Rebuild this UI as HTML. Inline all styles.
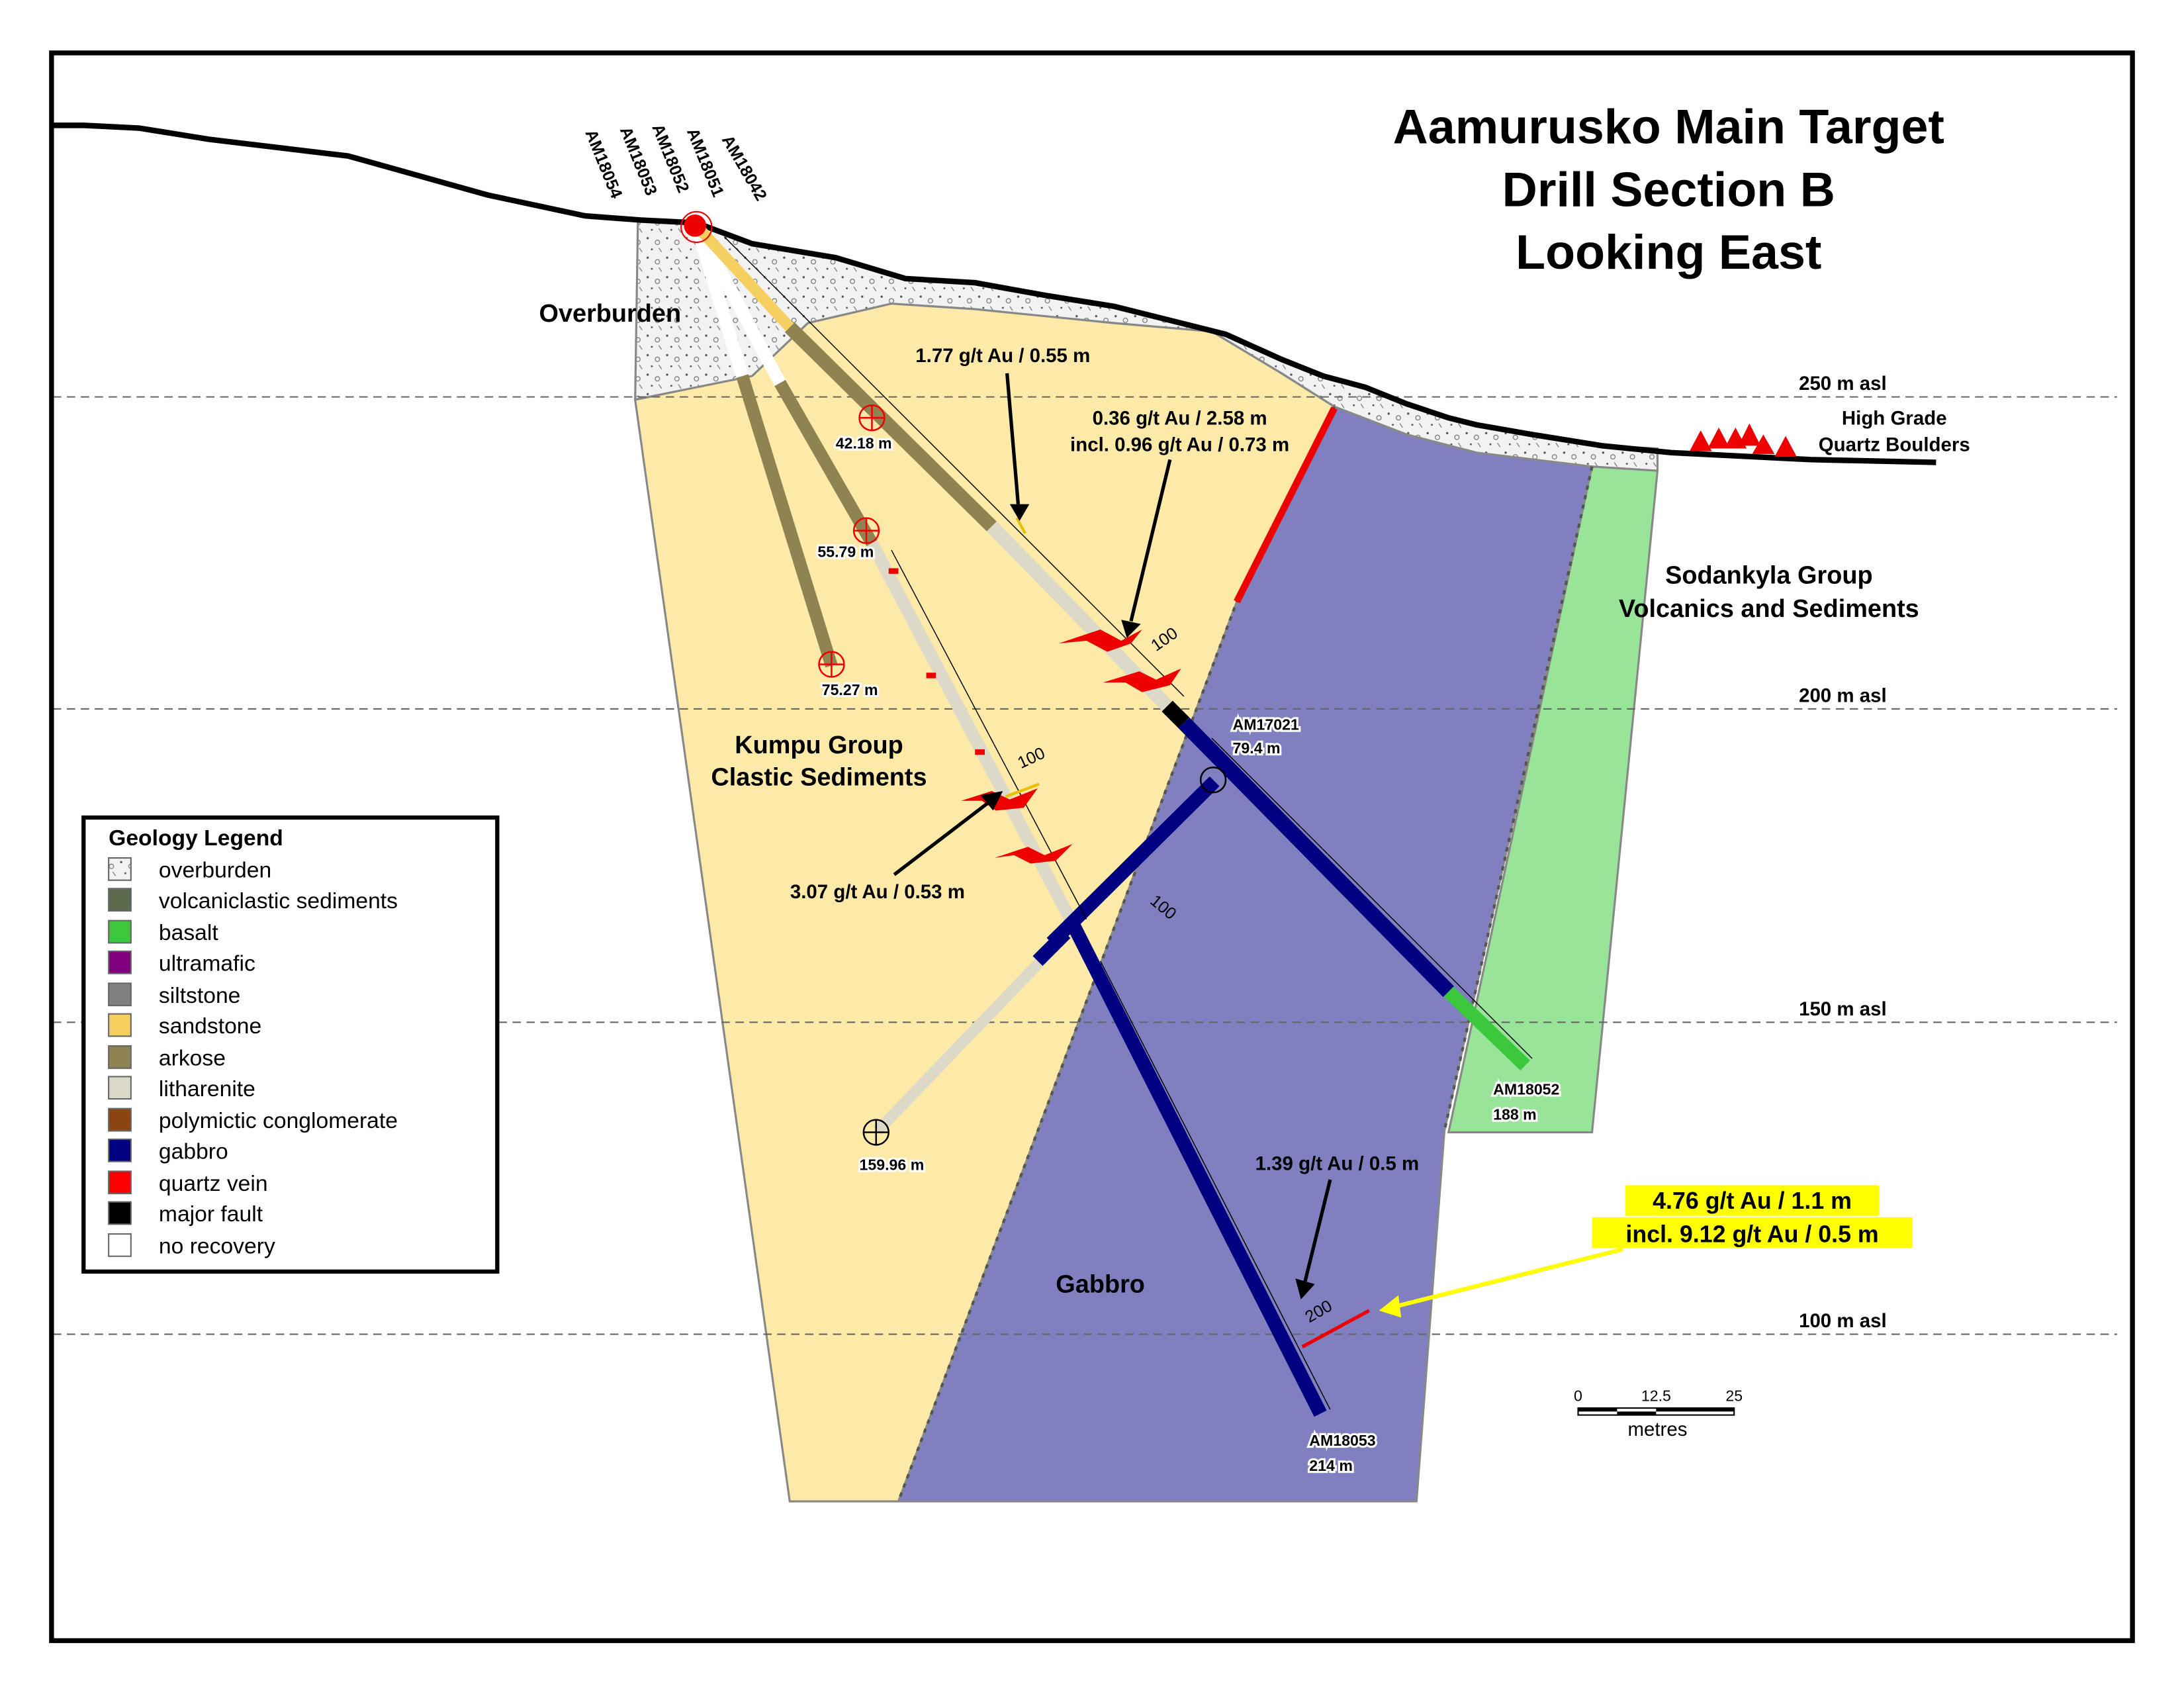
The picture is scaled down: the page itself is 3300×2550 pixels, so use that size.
<!DOCTYPE html>
<html><head><meta charset="utf-8"><style>html,body{margin:0;padding:0;background:#fff}svg{display:block}text{font-family:"Liberation Sans",Arial,sans-serif}</style></head>
<body>
<svg width="3300" height="2550" viewBox="0 0 1568 1212" preserveAspectRatio="none" xmlns="http://www.w3.org/2000/svg">
<defs>
<pattern id="ob" width="14" height="14" patternUnits="userSpaceOnUse">
<rect width="14" height="14" fill="#f2f2f2"/>
<circle cx="3" cy="3" r="0.8" fill="#555"/><circle cx="10" cy="6" r="1.6" fill="none" stroke="#777" stroke-width="0.6"/><circle cx="6" cy="11" r="0.7" fill="#555"/><line x1="11" y1="10" x2="13" y2="13" stroke="#777" stroke-width="0.6"/>
</pattern>
</defs>
<rect x="0" y="0" width="1568" height="1212" fill="#fff"/>
<polygon fill="url(#ob)" stroke="#888" stroke-width="1.5" points="458,157 500,160 540,175 600,185 650,200 700,203 750,212 800,220 880,240 920,258 950,270 980,278 1010,290 1040,300 1060,305 1100,312 1150,320 1190,322 1190,338 1143,335 1060,325 1010,312 958,292 920,268 870,238 800,232 700,222 640,218 580,232 540,270 456,287"/>
<polygon fill="#fdeaa8" stroke="#888" stroke-width="1.5" points="456,287 540,270 580,232 640,218 700,222 800,232 870,238 920,268 958,292 888,432 645,1078 567,1078"/>
<polygon fill="#8080c0" stroke="#888" stroke-width="1.5" points="958,292 1010,312 1060,325 1143,335 1037,812 1017,1078 645,1078 888,432"/>
<polygon fill="#98e498" stroke="#888" stroke-width="1.5" points="1143,335 1190,338 1143,813 1040,813"/>
<path d="M958,292 L888,432 L645,1078" stroke="#555" stroke-width="2" stroke-dasharray="3,4" fill="none"/>
<path d="M1143,335 L1037,812" stroke="#555" stroke-width="2" stroke-dasharray="3,4" fill="none"/>
<line x1="958" y1="293" x2="888" y2="432" stroke="#e00" stroke-width="5"/>
<g stroke="#666" stroke-width="1" stroke-dasharray="6,4">
<line x1="38" y1="285" x2="1520" y2="285"/><line x1="38" y1="509" x2="1520" y2="509"/><line x1="38" y1="734" x2="1520" y2="734"/><line x1="38" y1="958" x2="1520" y2="958"/>
</g>
<g font-weight="bold" font-size="14" text-anchor="middle">
<text x="1323" y="280">250 m asl</text><text x="1323" y="504">200 m asl</text><text x="1323" y="729">150 m asl</text><text x="1323" y="953">100 m asl</text>
</g>
<polyline fill="none" stroke="#000" stroke-width="4" points="38,90 60,90 100,92 150,100 250,112 350,140 420,155 460,158 500,160 540,175 600,185 650,200 700,203 750,212 800,220 880,240 920,258 950,270 980,278 1010,290 1040,300 1060,305 1100,312 1150,320 1200,325 1300,330 1390,332"/>
<g stroke-linecap="butt">
<line x1="500" y1="162" x2="533" y2="270" stroke="#fff" stroke-width="9"/>
<line x1="533" y1="270" x2="597" y2="478" stroke="#8f8352" stroke-width="9"/>
<line x1="500" y1="162" x2="560" y2="275" stroke="#fff" stroke-width="9"/>
<line x1="560" y1="275" x2="626" y2="390" stroke="#8f8352" stroke-width="9"/>
<line x1="626" y1="390" x2="770" y2="663" stroke="#dcd9c8" stroke-width="9"/>
<line x1="500" y1="162" x2="567" y2="235" stroke="#f5d060" stroke-width="8"/>
<line x1="567" y1="235" x2="712" y2="378" stroke="#8f8352" stroke-width="10"/>
<line x1="712" y1="378" x2="838" y2="507" stroke="#dcd9c8" stroke-width="10"/>
<line x1="838" y1="507" x2="850" y2="519" stroke="#000" stroke-width="11"/>
<line x1="850" y1="519" x2="1040" y2="712" stroke="#000080" stroke-width="11"/>
<line x1="1040" y1="712" x2="1095" y2="765" stroke="#3cc83c" stroke-width="10"/>
<line x1="770" y1="663" x2="948" y2="1015" stroke="#000080" stroke-width="10"/>
<line x1="755" y1="677" x2="872" y2="561" stroke="#000080" stroke-width="10"/>
<line x1="752" y1="685" x2="630" y2="812" stroke="#dcd9c8" stroke-width="8"/>
<line x1="745" y1="690" x2="765" y2="670" stroke="#000080" stroke-width="10"/>
</g>
<g stroke="#000" stroke-width="0.7" fill="none">
<line x1="520" y1="170" x2="850" y2="500"/><line x1="870" y1="530" x2="1100" y2="760"/>
<line x1="640" y1="395" x2="780" y2="660"/><line x1="790" y1="690" x2="955" y2="1012"/>
</g>
<g fill="#e00">
<polygon points="760,462 790,452 805,460 820,452 812,462 795,468 780,460"/>
<polygon points="792,490 818,482 830,488 848,480 840,492 820,497 808,490"/>
<polygon points="690,575 712,568 725,574 745,566 735,580 715,582 705,575"/>
<polygon points="714,616 738,608 750,614 770,606 758,618 740,620 728,614"/>
<rect x="665" y="483" width="7" height="4"/><rect x="700" y="538" width="7" height="4"/><rect x="638" y="408" width="7" height="4"/>
</g>
<line x1="935" y1="967" x2="983" y2="941" stroke="#e00" stroke-width="2.5"/>
<line x1="736" y1="383" x2="730" y2="372" stroke="#e8c000" stroke-width="2"/>
<line x1="722" y1="572" x2="746" y2="563" stroke="#e8c000" stroke-width="2"/>
<circle cx="499" cy="162" r="8" fill="#e00"/><circle cx="500" cy="163" r="11" fill="none" stroke="#e00"/>
<g fill="none" stroke="#e00" stroke-width="1.2">
<circle cx="626" cy="300" r="9"/><line x1="617" y1="300" x2="635" y2="300"/><line x1="626" y1="291" x2="626" y2="309"/>
<circle cx="622" cy="381" r="9"/><line x1="613" y1="381" x2="631" y2="381"/><line x1="622" y1="372" x2="622" y2="390"/>
<circle cx="597" cy="477" r="9"/><line x1="588" y1="477" x2="606" y2="477"/><line x1="597" y1="468" x2="597" y2="486"/>
</g>
<g fill="none" stroke="#000" stroke-width="1.2">
<circle cx="629" cy="813" r="9"/><line x1="620" y1="813" x2="638" y2="813"/><line x1="629" y1="804" x2="629" y2="822"/>
<circle cx="871" cy="560" r="9"/>
</g>
<g font-weight="bold" font-size="11" stroke="#fff" stroke-width="3" paint-order="stroke">
<text x="600" y="322">42.18 m</text><text x="587" y="400">55.79 m</text><text x="590" y="499">75.27 m</text><text x="617" y="840">159.96 m</text>
<text x="885" y="524">AM17021</text><text x="885" y="541">79.4 m</text>
<text x="1072" y="786">AM18052</text><text x="1072" y="804">188 m</text>
<text x="940" y="1038">AM18053</text><text x="940" y="1056">214 m</text>
</g>
<g font-size="12">
<text x="830" y="468" transform="rotate(-35 830 468)">100</text>
<text x="733" y="552" transform="rotate(-25 733 552)">100</text>
<text x="825" y="648" transform="rotate(40 825 648)">100</text>
<text x="940" y="950" transform="rotate(-30 940 950)">200</text>
</g>
<g font-weight="bold" font-size="12">
<text x="420" y="95" transform="rotate(68 420 95)">AM18054</text>
<text x="445" y="93" transform="rotate(68 445 93)">AM18053</text>
<text x="468" y="91" transform="rotate(68 468 91)">AM18052</text>
<text x="493" y="94" transform="rotate(68 493 94)">AM18051</text>
<text x="518" y="100" transform="rotate(60 518 100)">AM18042</text>
</g>
<g font-weight="bold" font-size="35" text-anchor="middle">
<text x="1198" y="103">Aamurusko Main Target</text><text x="1198" y="148">Drill Section B</text><text x="1198" y="193">Looking East</text>
</g>
<g font-weight="bold" font-size="18" text-anchor="middle">
<text x="438" y="231">Overburden</text>
<text x="588" y="541">Kumpu Group</text><text x="588" y="564">Clastic Sediments</text>
<text x="1270" y="419">Sodankyla Group</text><text x="1270" y="443">Volcanics and Sediments</text>
<text x="790" y="928">Gabbro</text>
</g>
<g font-weight="bold" font-size="14" text-anchor="middle">
<text x="1360" y="305">High Grade</text><text x="1360" y="324">Quartz Boulders</text>
<text x="720" y="260">1.77 g/t Au / 0.55 m</text>
<text x="847" y="305">0.36 g/t Au / 2.58 m</text><text x="847" y="324">incl. 0.96 g/t Au / 0.73 m</text>
<text x="630" y="645">3.07 g/t Au / 0.53 m</text>
<text x="960" y="840">1.39 g/t Au / 0.5 m</text>
</g>
<rect x="1167" y="851" width="182" height="22" fill="#ffff00"/>
<rect x="1143" y="874" width="230" height="22" fill="#ffff00"/>
<g font-weight="bold" font-size="17" text-anchor="middle">
<text x="1258" y="868">4.76 g/t Au / 1.1 m</text><text x="1258" y="892">incl. 9.12 g/t Au / 0.5 m</text>
</g>
<g stroke="#000" stroke-width="2.5">
<line x1="723" y1="268" x2="731" y2="362"/><line x1="840" y1="330" x2="812" y2="446"/>
<line x1="642" y1="628" x2="710" y2="576"/><line x1="955" y1="847" x2="937" y2="920"/>
</g>
<g fill="#000">
<polygon points="725,362 739,362 732,374"/><polygon points="805,445 819,448 809,458"/>
<polygon points="704,571 713,582 720,568"/><polygon points="930,918 944,922 934,933"/>
</g>
<line x1="1165" y1="897" x2="1002" y2="938" stroke="#ffff00" stroke-width="3"/>
<polygon points="990,941 1004,930 1006,946" fill="#ffff00"/>
<g fill="#e00">
<polygon points="1213,324 1221,309 1229,324"/><polygon points="1226,322 1234,307 1242,322"/><polygon points="1238,322 1246,307 1254,322"/><polygon points="1248,320 1256,304 1264,320"/><polygon points="1258,326 1266,312 1274,326"/><polygon points="1274,328 1282,313 1290,328"/>
</g>
<rect x="1133" y="1011" width="112" height="5" fill="#fff" stroke="#000" stroke-width="1"/>
<rect x="1133" y="1011" width="28" height="2.5" fill="#000"/><rect x="1161" y="1013.5" width="28" height="2.5" fill="#000"/><rect x="1189" y="1011" width="56" height="2.5" fill="#000"/>
<g font-size="11" text-anchor="middle"><text x="1133" y="1006">0</text><text x="1189" y="1006">12.5</text><text x="1245" y="1006">25</text></g>
<text x="1190" y="1031" font-size="14" text-anchor="middle">metres</text>
<rect x="60" y="587" width="297" height="326" fill="#fff" stroke="#000" stroke-width="3"/>
<text x="78" y="607" font-weight="bold" font-size="16">Geology Legend</text>
<g stroke="#666" stroke-width="1">
<rect x="78" y="616" width="16" height="16" fill="url(#ob)"/>
<rect x="78" y="638" width="16" height="16" fill="#5c6a4e"/>
<rect x="78" y="661" width="16" height="16" fill="#3cc83c"/>
<rect x="78" y="683" width="16" height="16" fill="#800080"/>
<rect x="78" y="706" width="16" height="16" fill="#808080"/>
<rect x="78" y="728" width="16" height="16" fill="#f5d060"/>
<rect x="78" y="751" width="16" height="16" fill="#8f8352"/>
<rect x="78" y="773" width="16" height="16" fill="#dcd9c8"/>
<rect x="78" y="796" width="16" height="16" fill="#8b4513"/>
<rect x="78" y="818" width="16" height="16" fill="#000080"/>
<rect x="78" y="841" width="16" height="16" fill="#ff0000"/>
<rect x="78" y="863" width="16" height="16" fill="#000"/>
<rect x="78" y="886" width="16" height="16" fill="#fff"/>
</g>
<g font-size="16">
<text x="114" y="630">overburden</text><text x="114" y="652">volcaniclastic sediments</text><text x="114" y="675">basalt</text><text x="114" y="697">ultramafic</text><text x="114" y="720">siltstone</text><text x="114" y="742">sandstone</text><text x="114" y="765">arkose</text><text x="114" y="787">litharenite</text><text x="114" y="810">polymictic conglomerate</text><text x="114" y="832">gabbro</text><text x="114" y="855">quartz vein</text><text x="114" y="877">major fault</text><text x="114" y="900">no recovery</text>
</g>
<rect x="37" y="38" width="1494" height="1140" fill="none" stroke="#000" stroke-width="3.5"/>
</svg>
</body></html>
